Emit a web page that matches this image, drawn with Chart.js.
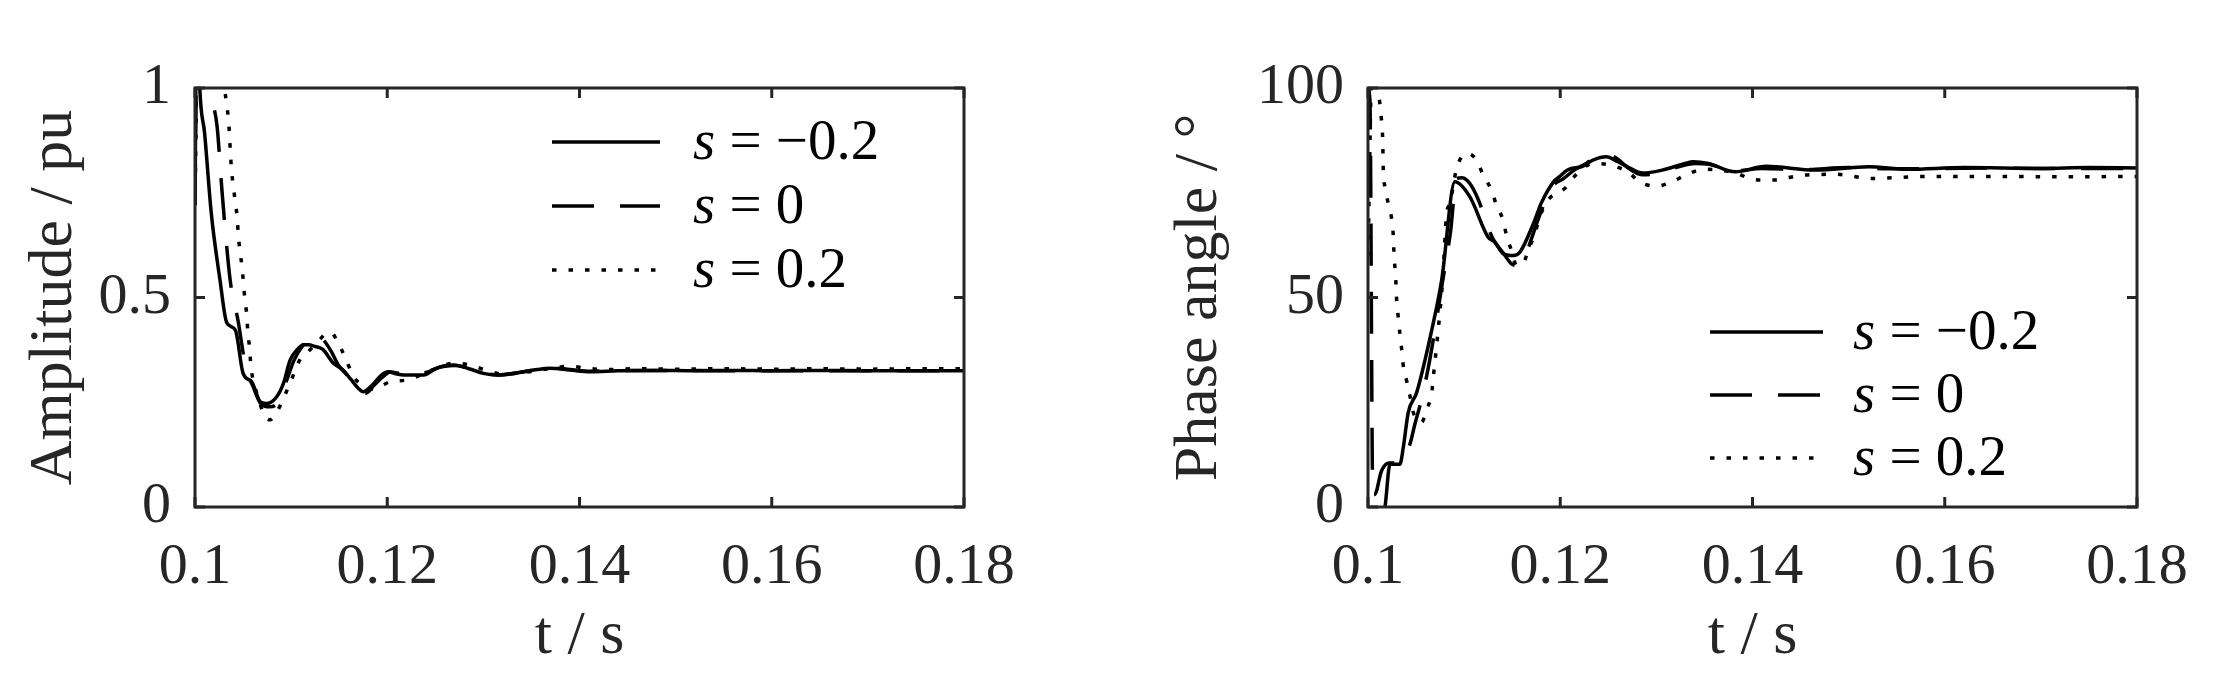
<!DOCTYPE html>
<html lang="fr">
<head>
<meta charset="utf-8">
<title>Amplitude et angle de phase</title>
<script src="https://cdn.jsdelivr.net/npm/chart.js@4.4.1/dist/chart.umd.min.js"></script>
<style>
    html, body { margin: 0; padding: 0; background: #fff; }
    body { width: 2238px; height: 700px; position: relative; overflow: hidden; }
    .bloc { position: absolute; top: 0; height: 700px; }
    #bloc-amplitude { left: 0; width: 1100px; }
    #bloc-phase { left: 1100px; width: 1138px; }
</style>
</head>
<body>
<div class="bloc" id="bloc-amplitude"><canvas id="graphique-amplitude"></canvas></div>
<div class="bloc" id="bloc-phase"><canvas id="graphique-phase"></canvas></div>
<script>
// Libellés des trois courbes (glissement s)
const libelles = ["s = \u22120.2", "s = 0", "s = 0.2"];

// Graduations communes de l'axe du temps
const tempsTicks = [0.1, 0.12, 0.14, 0.16, 0.18];
const tempsLabels = ["0.1", "0.12", "0.14", "0.16", "0.18"];
const amplitudeTicks = [0, 0.5, 1];
const amplitudeLabels = ["0", "0.5", "1"];
const phaseTicks = [0, 50, 100];
const phaseLabels = ["0", "50", "100"];

// Amplitude (pu), s = -0.2
const ampTempsA = [0.1, 0.1002, 0.1005, 0.101, 0.1017, 0.1026, 0.1033, 0.1042, 0.105, 0.1059, 0.1068, 0.1075, 0.1085, 0.1092, 0.1099, 0.1106, 0.1113, 0.1118, 0.1125, 0.1133, 0.1144, 0.1154, 0.1162, 0.117, 0.1175, 0.1184, 0.1194, 0.1201, 0.1209, 0.1217, 0.1228, 0.1238, 0.1251, 0.126, 0.1269, 0.1285, 0.13, 0.1314, 0.1328, 0.1342, 0.1356, 0.1369, 0.139, 0.1411, 0.144, 0.148, 0.152, 0.156, 0.16, 0.165, 0.17, 0.175, 0.18];
const ampA = [0.72, 1.25, 1.0, 0.892, 0.7, 0.542, 0.44, 0.422, 0.319, 0.299, 0.251, 0.247, 0.263, 0.295, 0.351, 0.375, 0.387, 0.387, 0.383, 0.376, 0.343, 0.327, 0.305, 0.283, 0.275, 0.29, 0.315, 0.323, 0.318, 0.315, 0.315, 0.315, 0.331, 0.336, 0.339, 0.33, 0.319, 0.315, 0.318, 0.323, 0.328, 0.331, 0.327, 0.323, 0.325, 0.326, 0.325, 0.326, 0.325, 0.326, 0.325, 0.325, 0.325];

// Amplitude (pu), s = 0
const ampTempsB = [0.1, 0.1003, 0.1016, 0.1023, 0.1028, 0.1034, 0.1037, 0.1045, 0.1049, 0.1053, 0.106, 0.1069, 0.1078, 0.1088, 0.1095, 0.1103, 0.1112, 0.1121, 0.1128, 0.1135, 0.1142, 0.1149, 0.1158, 0.117, 0.1178, 0.1186, 0.1196, 0.1203, 0.1215, 0.123, 0.1245, 0.126, 0.1272, 0.1285, 0.13, 0.1316, 0.1335, 0.1355, 0.1372, 0.139, 0.1411, 0.145, 0.15, 0.155, 0.16, 0.165, 0.17, 0.175, 0.18];
const ampB = [0.72, 1.4, 1.0, 0.908, 0.757, 0.597, 0.534, 0.442, 0.383, 0.33, 0.29, 0.245, 0.239, 0.255, 0.3, 0.35, 0.385, 0.405, 0.41, 0.395, 0.37, 0.339, 0.315, 0.279, 0.272, 0.29, 0.312, 0.322, 0.318, 0.315, 0.325, 0.337, 0.338, 0.33, 0.32, 0.315, 0.32, 0.328, 0.332, 0.328, 0.324, 0.326, 0.326, 0.325, 0.325, 0.325, 0.325, 0.325, 0.325];

// Amplitude (pu), s = 0.2
const ampTempsC = [0.1, 0.1005, 0.1031, 0.1033, 0.1035, 0.1036, 0.1037, 0.1038, 0.104, 0.1042, 0.1044, 0.1045, 0.1047, 0.1049, 0.1052, 0.1054, 0.1055, 0.1057, 0.1058, 0.1061, 0.1066, 0.1071, 0.1078, 0.1083, 0.1088, 0.1095, 0.1102, 0.1109, 0.112, 0.113, 0.1136, 0.1142, 0.1147, 0.1151, 0.1158, 0.1165, 0.1175, 0.1187, 0.1195, 0.1203, 0.122, 0.1235, 0.125, 0.1269, 0.1286, 0.1302, 0.1321, 0.1345, 0.1371, 0.139, 0.1407, 0.143, 0.146, 0.15, 0.155, 0.16, 0.165, 0.17, 0.175, 0.18];
const ampC = [0.72, 1.5, 0.995, 0.959, 0.92, 0.88, 0.84, 0.804, 0.764, 0.725, 0.689, 0.649, 0.609, 0.57, 0.494, 0.454, 0.415, 0.375, 0.339, 0.299, 0.26, 0.224, 0.208, 0.22, 0.239, 0.275, 0.313, 0.351, 0.376, 0.4, 0.414, 0.416, 0.4, 0.383, 0.347, 0.311, 0.29, 0.281, 0.29, 0.299, 0.303, 0.315, 0.33, 0.343, 0.339, 0.327, 0.317, 0.322, 0.331, 0.336, 0.331, 0.328, 0.33, 0.329, 0.33, 0.329, 0.33, 0.329, 0.33, 0.33];

// Angle de phase (°), s = -0.2
const phaseTempsA = [0.1, 0.10177, 0.10229, 0.10332, 0.10367, 0.10419, 0.10506, 0.10662, 0.10766, 0.10904, 0.1106, 0.1125, 0.1132, 0.1141, 0.1151, 0.1158, 0.1172, 0.118, 0.1193, 0.1199, 0.1208, 0.1223, 0.1234, 0.1248, 0.126, 0.127, 0.1286, 0.1306, 0.133, 0.1338, 0.1354, 0.1382, 0.1414, 0.1465, 0.1521, 0.1561, 0.162, 0.17, 0.175, 0.18];
const phaseA = [-20, 0, 10.2, 10.2, 14.2, 22.6, 27.3, 42.1, 54.1, 77.6, 74, 64.4, 63.2, 60.4, 60, 60.8, 67.6, 72.4, 77.6, 78.8, 80.5, 81.3, 82.8, 83.6, 82.4, 81.2, 79.7, 80.4, 82, 82.4, 82, 80, 81.3, 80.4, 81.2, 80.6, 81, 80.8, 81, 80.9];

// Angle de phase (°), s = 0
const phaseTempsB = [0.1, 0.1002, 0.1005, 0.1007, 0.1014, 0.1022, 0.1033, 0.10436, 0.10488, 0.10558, 0.10644, 0.1077, 0.1086, 0.1092, 0.1098, 0.1103, 0.1108, 0.11164, 0.1123, 0.113, 0.1141, 0.1149, 0.1156, 0.1163, 0.117, 0.118, 0.1192, 0.1203, 0.1215, 0.1227, 0.1238, 0.125, 0.126, 0.127, 0.1285, 0.13, 0.132, 0.134, 0.1355, 0.138, 0.141, 0.145, 0.15, 0.155, 0.16, 0.165, 0.17, 0.175, 0.18];
const phaseB = [100, 97, 3, 3, 8.6, 10.5, 10.5, 15, 19.8, 25.8, 35.3, 53, 66, 78.4, 78.6, 78, 76.5, 72.4, 68, 64, 60.5, 58.1, 57.6, 59.5, 64, 70.5, 76.5, 78.3, 80.5, 82, 83.8, 84, 83, 81, 79.3, 79.6, 81, 82, 81.8, 80.2, 80.8, 80.5, 81, 80.7, 80.8, 80.9, 80.8, 80.8, 80.8];

// Angle de phase (°), s = 0.2
const phaseTempsC = [0.1, 0.1005, 0.10107, 0.10142, 0.10153, 0.10159, 0.10177, 0.10211, 0.10246, 0.10263, 0.1027, 0.10281, 0.10291, 0.10298, 0.10315, 0.10332, 0.1035, 0.10367, 0.10402, 0.10436, 0.10471, 0.10558, 0.1061, 0.10662, 0.10679, 0.10714, 0.10748, 0.10776, 0.10818, 0.10852, 0.10922, 0.11025, 0.11129, 0.11198, 0.11285, 0.11337, 0.11406, 0.11441, 0.11493, 0.11545, 0.11614, 0.11665, 0.11735, 0.11787, 0.11857, 0.12064, 0.12126, 0.1235, 0.12703, 0.12823, 0.13003, 0.13162, 0.1332, 0.135, 0.13839, 0.13998, 0.14177, 0.14536, 0.14875, 0.15233, 0.158, 0.165, 0.172, 0.18];
const phaseC = [60, 112, 99.5, 91.9, 87.6, 80.4, 76.4, 72.4, 68.8, 64.8, 60.8, 56.9, 53.3, 49.3, 45.3, 41.3, 37.7, 33.7, 30.1, 26.6, 22.6, 20.2, 23.4, 27, 30.9, 38.5, 46.5, 54.1, 70, 72.4, 80.8, 84.4, 82.8, 79.2, 75.6, 72, 68.4, 64.8, 61.2, 57.7, 58.1, 61.2, 65.2, 69.2, 72.8, 76.4, 78.4, 82, 80, 77.6, 76.6, 77.6, 79.4, 80.6, 79.6, 78.2, 78, 79.2, 79.4, 78.4, 78.9, 78.9, 78.8, 78.9];

// Style des traits : continu, tirets, pointillés
const tirets = [[], [42, 26], [4.5, 12]];

const police = "'Liberation Serif', 'Times New Roman', serif";
const gris = "#262626";

// Plugin : cadre fermé, graduations intérieures et légende dans la zone de tracé
const cadre = {
    id: "cadre",
    afterDatasetsDraw(chart, args, opts) {
        const { ctx, chartArea: a, scales: { x, y } } = chart;
        ctx.save();
        ctx.strokeStyle = gris;
        ctx.lineWidth = 3;
        ctx.setLineDash([]);
        ctx.strokeRect(a.left, a.top, a.right - a.left, a.bottom - a.top);
        ctx.beginPath();
        for (const t of x.ticks) {
            const px = x.getPixelForValue(t.value);
            ctx.moveTo(px, a.bottom);
            ctx.lineTo(px, a.bottom - 10);
            ctx.moveTo(px, a.top);
            ctx.lineTo(px, a.top + 10);
        }
        for (const t of y.ticks) {
            const py = y.getPixelForValue(t.value);
            ctx.moveTo(a.left, py);
            ctx.lineTo(a.left + 10, py);
            ctx.moveTo(a.right, py);
            ctx.lineTo(a.right - 10, py);
        }
        ctx.stroke();

        // Légende : échantillon de trait puis "s" en italique
        chart.data.datasets.forEach((ds, i) => {
            const yy = opts.y + i * opts.pas;
            ctx.strokeStyle = ds.borderColor;
            ctx.lineWidth = ds.borderWidth;
            ctx.setLineDash(ds.borderDash);
            ctx.beginPath();
            ctx.moveTo(opts.x, yy);
            ctx.lineTo(opts.x + opts.longueur, yy);
            ctx.stroke();
            ctx.setLineDash([]);
            ctx.fillStyle = "#000";
            ctx.textBaseline = "alphabetic";
            ctx.textAlign = "left";
            ctx.font = "italic 57px " + police;
            ctx.fillText(ds.label.slice(0, 1), opts.xTexte, yy + 17);
            const w = ctx.measureText(ds.label.slice(0, 1)).width;
            ctx.font = "57px " + police;
            ctx.fillText(ds.label.slice(1), opts.xTexte + w, yy + 17);
        });
        ctx.restore();
    }
};

function serie(i, temps, valeurs) {
    return {
        label: libelles[i],
        data: temps.map((t, k) => ({ x: t, y: valeurs[k] })),
        borderColor: "#000",
        borderWidth: 3.5,
        borderDash: tirets[i],
        borderCapStyle: "butt",
        pointRadius: 0,
        fill: false,
        cubicInterpolationMode: "monotone",
    };
}

function graphique(id, series, yMin, yMax, yTicks, yLabels, titreY, largeurY, decalTitreY, droite, legende) {
    return new Chart(document.getElementById(id), {
        type: "line",
        data: { datasets: series },
        options: {
            responsive: true,
            maintainAspectRatio: false,
            animation: false,
            events: [],
            layout: { padding: { top: 88, right: droite, bottom: 0, left: 0 } },
            scales: {
                x: {
                    type: "linear",
                    min: 0.1,
                    max: 0.18,
                    afterBuildTicks: s => { s.ticks = tempsTicks.map(v => ({ value: v })); },
                    afterFit: s => { s.height = 193; },
                    grid: { display: false, drawTicks: false },
                    border: { display: false },
                    ticks: {
                        callback: v => tempsLabels[tempsTicks.indexOf(v)],
                        font: { family: police, size: 58 },
                        color: gris,
                        padding: 26,
                        maxRotation: 0,
                        autoSkip: false,
                    },
                    title: {
                        display: true,
                        text: "t / s",
                        font: { family: police, size: 62 },
                        color: gris,
                        padding: { top: 0, bottom: 26 },
                    },
                },
                y: {
                    type: "linear",
                    min: yMin,
                    max: yMax,
                    afterBuildTicks: s => { s.ticks = yTicks.map(v => ({ value: v })); },
                    afterFit: s => { s.width = largeurY; },
                    grid: { display: false, drawTicks: false },
                    border: { display: false },
                    ticks: {
                        callback: v => yLabels[yTicks.indexOf(v)],
                        font: { family: police, size: 58 },
                        color: gris,
                        padding: 24,
                    },
                    title: {
                        display: true,
                        text: titreY,
                        font: { family: police, size: 62 },
                        color: gris,
                        padding: { top: decalTitreY, bottom: 0 },
                    },
                },
            },
            plugins: {
                legend: { display: false },
                tooltip: { enabled: false },
                cadre: legende,
            },
        },
        plugins: [cadre],
    });
}

graphique("graphique-amplitude",
    [serie(0, ampTempsA, ampA), serie(1, ampTempsB, ampB), serie(2, ampTempsC, ampC)],
    0, 1, amplitudeTicks, amplitudeLabels, "Amplitude / pu", 195, 18, 136,
    { x: 552, longueur: 108, xTexte: 693, y: 142, pas: 64 });

graphique("graphique-phase",
    [serie(0, phaseTempsA, phaseA), serie(1, phaseTempsB, phaseB), serie(2, phaseTempsC, phaseC)],
    0, 100, phaseTicks, phaseLabels, "Phase angle / \u00B0", 268, 63, 101,
    { x: 610, longueur: 113, xTexte: 753, y: 332, pas: 63 });
</script>
</body>
</html>
